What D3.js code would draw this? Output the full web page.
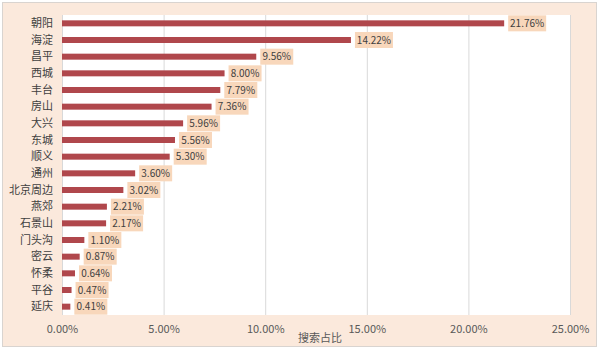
<!DOCTYPE html>
<html><head><meta charset="utf-8">
<script src="https://cdn.jsdelivr.net/npm/d3@7"></script>
<style>html,body{margin:0;padding:0;background:#fff;}svg{display:block;}</style>
</head><body>
<svg id="c" width="600" height="350"></svg>
<script>
const categories = ["朝阳","海淀","昌平","西城","丰台","房山","大兴","东城","顺义","通州","北京周边","燕郊","石景山","门头沟","密云","怀柔","平谷","延庆"];
const values = [21.76,14.22,9.56,8.00,7.79,7.36,5.96,5.56,5.30,3.60,3.02,2.21,2.17,1.10,0.87,0.64,0.47,0.41];
const tickValues = [0,5,10,15,20,25];
const axisTitle = "搜索占比";

const svg = d3.select("#c");
const font = "'Noto Sans CJK SC','Microsoft YaHei',sans-serif";
svg.append("rect").attr("x",2.5).attr("y",2.5).attr("width",594).attr("height",344)
  .attr("fill","#fbe9dc").attr("stroke","#d9d4d0").attr("stroke-width",1);

const m = {l:62, r:30, t:15, b:35};
const W = 600, H = 350;
const x = d3.scaleLinear().domain([0,25]).range([m.l, 570]);
const y = d3.scaleBand().domain(categories).range([m.t, 315]).paddingInner(0.64).paddingOuter(0.32);

svg.append("rect").attr("x",x(0)).attr("y",m.t).attr("width",x(25)-x(0)).attr("height",315-m.t).attr("fill","#fff");

const gx = svg.append("g").attr("transform",`translate(0,315)`)
  .call(d3.axisBottom(x).tickValues(tickValues).tickSize(-(315-m.t)).tickFormat(d=>d.toFixed(2)+"%"));
gx.select(".domain").remove();
gx.selectAll(".tick line").attr("stroke","#d9d9d9");
gx.selectAll(".tick text").attr("fill","#595959").attr("font-size",11).attr("font-family",font).attr("dy","1.35em");

const gy = svg.append("g").attr("transform",`translate(${x(0)},0)`)
  .call(d3.axisLeft(y).tickSize(0).tickPadding(9));
gy.select(".domain").remove();
gy.selectAll(".tick text").attr("fill","#404040").attr("font-size",11).attr("font-family",font);

svg.append("g").selectAll("rect").data(values).join("rect")
  .attr("x",x(0)).attr("y",(d,i)=>y(categories[i]))
  .attr("width",d=>x(d)-x(0)).attr("height",y.bandwidth()).attr("fill","#b0474c");

const lg = svg.append("g").selectAll("g").data(values).join("g")
  .attr("transform",(d,i)=>`translate(${x(d)+4},${y(categories[i])+y.bandwidth()/2})`);
lg.append("rect").attr("x",0).attr("y",-8).attr("height",16)
  .attr("width",d=>d>=10?38:33).attr("fill","#f8d7bb");
lg.append("text").attr("x",d=>(d>=10?38:33)/2).attr("y",0).attr("dy","0.35em")
  .attr("text-anchor","middle").attr("font-size",10).attr("font-family",font).attr("fill","#404040")
  .text(d=>d.toFixed(2)+"%");

svg.append("text").attr("x",320).attr("y",338).attr("dy","0.35em").attr("text-anchor","middle")
  .attr("font-size",11).attr("font-family",font).attr("fill","#595959").text(axisTitle);
</script>
</body></html>
